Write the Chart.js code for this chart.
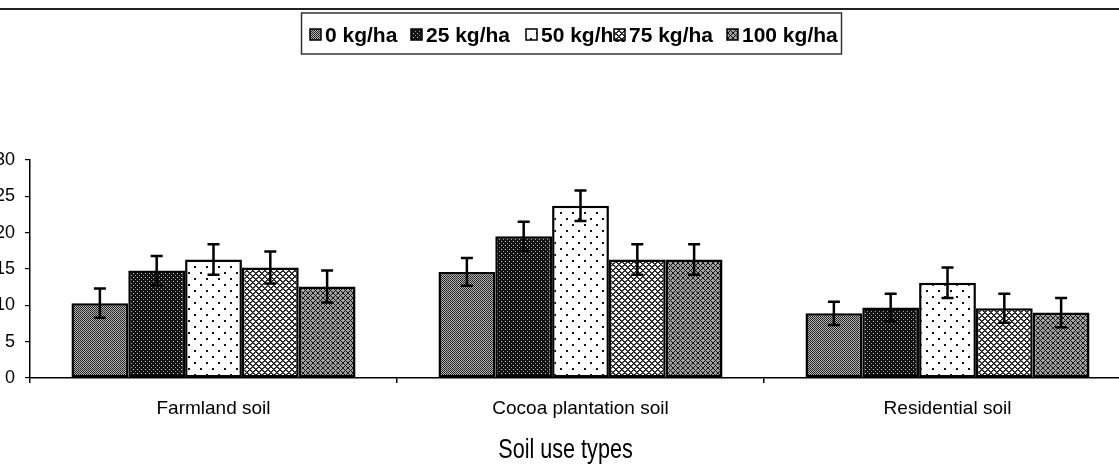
<!DOCTYPE html>
<html>
<head>
<meta charset="utf-8">
<script src="https://cdn.jsdelivr.net/npm/chart.js@4.4.0/dist/chart.umd.min.js"></script>
<style>
    html, body { margin: 0; padding: 0; background: #fff; overflow: hidden; }
    #wrap { position: relative; width: 1131px; height: 469px; }
</style>
</head>
<body>
<div id="wrap"><canvas id="myChart"></canvas></div>
<script>
const categories = ['Farmland soil', 'Cocoa plantation soil', 'Residential soil'];
const doseLabels = ['0 kg/ha', '25 kg/ha', '50 kg/ha', '75 kg/ha', '100 kg/ha'];

// mean values per dose, one entry per soil type
const dose0 = [10.3, 14.6, 8.9];
const dose25 = [14.8, 19.5, 9.7];
const dose50 = [16.3, 23.7, 13.1];
const dose75 = [15.2, 16.3, 9.6];
const dose100 = [12.6, 16.3, 9.0];

// error bar half-lengths
const err0 = [2.0, 1.9, 1.6];
const err25 = [2.0, 2.0, 1.9];
const err50 = [2.1, 2.1, 2.1];
const err75 = [2.2, 2.1, 2.0];
const err100 = [2.2, 2.1, 2.0];

const yTicks = [0, 5, 10, 15, 20, 25, 30];
const xTitle = 'Soil use types';

document.addEventListener('DOMContentLoaded', () => {
    const canvas = document.getElementById('myChart');
    const ctx = canvas.getContext('2d');

    function makePattern(w, h, paint) {
        const c = document.createElement('canvas');
        c.width = w;
        c.height = h;
        const g = c.getContext('2d');
        paint(g, w, h);
        return ctx.createPattern(c, 'repeat');
    }

    function px(g, x, y, color) {
        g.fillStyle = color;
        g.fillRect(x, y, 1, 1);
    }

    // grey checker
    const pat0 = makePattern(2, 2, (g) => {
        g.fillStyle = '#b4b4b4';
        g.fillRect(0, 0, 2, 2);
        px(g, 0, 0, '#1a1a1a');
        px(g, 1, 1, '#2e2e2e');
    });
    // black with small light dots
    const pat25 = makePattern(4, 4, (g) => {
        g.fillStyle = '#111';
        g.fillRect(0, 0, 4, 4);
        px(g, 1, 1, '#d8d8d8');
        px(g, 3, 3, '#9a9a9a');
    });
    // white with black dots
    const pat50 = makePattern(12, 12, (g) => {
        g.fillStyle = '#fff';
        g.fillRect(0, 0, 12, 12);
        g.fillStyle = '#111';
        g.fillRect(2, 2, 2, 2);
        g.fillRect(8, 8, 2, 2);
    });
    // open cross hatch
    const pat75 = makePattern(6, 6, (g) => {
        g.fillStyle = '#fff';
        g.fillRect(0, 0, 6, 6);
        for (let x = 0; x < 6; x++) {
            for (let y = 0; y < 6; y++) {
                if ((x - y + 6) % 6 === 0 || (x + y) % 6 === 0) px(g, x, y, '#111');
                else if ((x - y + 6) % 6 === 1 || (x + y) % 6 === 1) px(g, x, y, '#555');
            }
        }
    });
    // dark cross hatch
    const pat100 = makePattern(5, 5, (g) => {
        g.fillStyle = '#a0a0a0';
        g.fillRect(0, 0, 5, 5);
        for (let x = 0; x < 5; x++) {
            for (let y = 0; y < 5; y++) {
                if ((x - y + 5) % 5 === 0 || (x + y) % 5 === 0) px(g, x, y, '#141414');
            }
        }
    });

    const seriesValues = [dose0, dose25, dose50, dose75, dose100];
    const seriesErrors = [err0, err25, err50, err75, err100];
    const patterns = [pat0, pat25, pat50, pat75, pat100];

    const datasets = doseLabels.map((label, i) => ({
        label: label,
        data: seriesValues[i],
        errors: seriesErrors[i],
        backgroundColor: patterns[i],
        borderColor: '#000',
        borderWidth: 2.5,
        borderSkipped: false,
        categoryPercentage: 0.774,
        barPercentage: 1.0
    }));

    const errorBars = {
        id: 'errorBars',
        afterDatasetsDraw(chart) {
            const y = chart.scales.y;
            const g = chart.ctx;
            g.save();
            g.strokeStyle = '#000';
            g.lineWidth = 2.5;
            chart.data.datasets.forEach((ds, i) => {
                chart.getDatasetMeta(i).data.forEach((bar, j) => {
                    const v = ds.data[j];
                    const e = ds.errors[j];
                    const top = y.getPixelForValue(v + e);
                    const bot = y.getPixelForValue(v - e);
                    g.beginPath();
                    g.moveTo(bar.x, top);
                    g.lineTo(bar.x, bot);
                    g.moveTo(bar.x - 6, top);
                    g.lineTo(bar.x + 6, top);
                    g.moveTo(bar.x - 6, bot);
                    g.lineTo(bar.x + 6, bot);
                    g.stroke();
                });
            });
            g.restore();
        }
    };

    // boxed legend, narrow axis title and the rule along the top of the scan
    const boxLegend = {
        id: 'boxLegend',
        afterDraw(chart) {
            const g = chart.ctx;
            const slots = [310, 411, 526, 614, 727];
            g.save();
            g.strokeStyle = '#222';
            g.lineWidth = 2;
            g.beginPath();
            g.moveTo(0, 9);
            g.lineTo(1131, 9);
            g.stroke();

            g.lineWidth = 1.5;
            g.strokeStyle = '#333';
            g.strokeRect(301.5, 13, 540, 41);

            g.font = 'bold 21px "Liberation Sans", Arial, sans-serif';
            g.textBaseline = 'alphabetic';
            chart.data.datasets.forEach((ds, i) => {
                const x = slots[i];
                g.fillStyle = ds.backgroundColor;
                g.fillRect(x, 29, 11, 11);
                g.strokeStyle = '#000';
                g.lineWidth = 1.5;
                g.strokeRect(x, 29, 11, 11);
                g.fillStyle = '#000';
                g.fillText(ds.label, x + 15, 42);
            });

            // condensed title under the x axis
            const xs = chart.scales.x;
            g.font = '27px "Liberation Sans", Arial, sans-serif';
            g.textAlign = 'center';
            g.textBaseline = 'alphabetic';
            g.translate((xs.left + xs.right) / 2 - 15, 458);
            g.scale(0.8, 1);
            g.fillStyle = '#000';
            g.fillText(xTitle, 0, 0);
            g.restore();
        }
    };

    new Chart(ctx, {
        type: 'bar',
        data: {
            labels: categories,
            datasets: datasets
        },
        plugins: [errorBars, boxLegend],
        options: {
            responsive: true,
            maintainAspectRatio: false,
            animation: false,
            layout: {
                padding: { top: 160, left: 0, right: 0, bottom: 0 }
            },
            plugins: {
                legend: { display: false },
                tooltip: { enabled: false }
            },
            scales: {
                x: {
                    grid: {
                        offset: true,
                        drawOnChartArea: false,
                        color: '#000',
                        tickLength: 5,
                        lineWidth: 1.5
                    },
                    border: { color: '#000', width: 1.5 },
                    ticks: {
                        color: '#000',
                        padding: 14,
                        font: { family: '"Liberation Sans", Arial, sans-serif', size: 19 }
                    },
                    afterFit(scale) {
                        scale.height = 91;
                    }
                },
                y: {
                    min: yTicks[0],
                    max: yTicks[yTicks.length - 1],
                    afterBuildTicks(scale) {
                        scale.ticks = yTicks.map(v => ({ value: v }));
                    },
                    grid: {
                        drawOnChartArea: false,
                        color: '#000',
                        tickLength: 5,
                        lineWidth: 1.2
                    },
                    border: { color: '#000', width: 1.5 },
                    ticks: {
                        color: '#000',
                        padding: 10,
                        font: { family: '"Liberation Sans", Arial, sans-serif', size: 18 }
                    },
                    afterFit(scale) {
                        scale.width = 30;
                    }
                }
            }
        }
    });
});
</script>
</body>
</html>
